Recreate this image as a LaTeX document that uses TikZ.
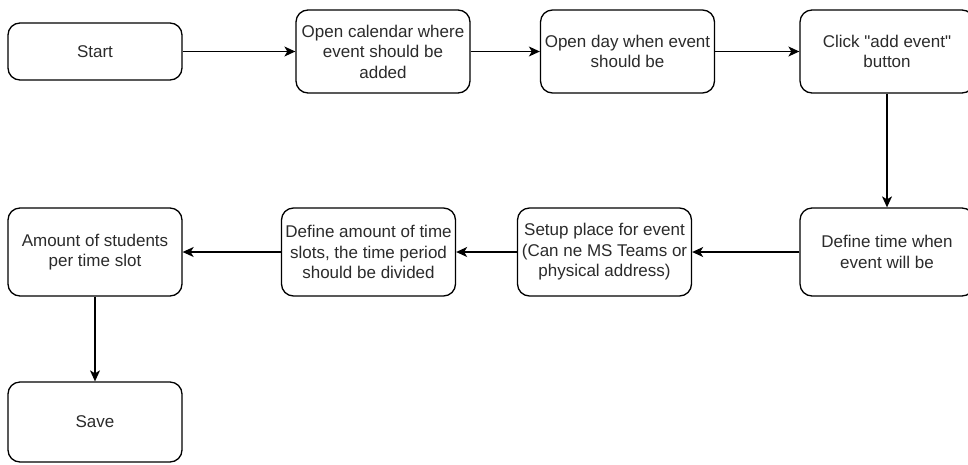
\documentclass[tikz,border=0pt]{standalone}
\usepackage{fontspec}
\setmainfont{Liberation Sans}[Ligatures=TeXOff]
\usetikzlibrary{arrows.meta}
\definecolor{ink}{HTML}{2B2B2B}
\begin{document}
\begin{tikzpicture}[x=1pt,y=-1pt,
  stepbox/.style={draw=black, line width=1.3pt, rounded corners=12pt, fill=white,
    inner sep=0pt, align=center, text=ink, font=\fontsize{17}{20.5}\selectfont,
    minimum width=174pt, minimum height=86pt},
  flow/.style={draw=black, line width=1.3pt, -{Stealth[length=11pt,width=10pt,inset=3pt]}}]
\useasboundingbox[fill=white] (0,0) rectangle (968,464);
% top row
\node[stepbox, minimum height=57pt] (start) at (95,51.5) {Start};
\node[stepbox, minimum height=83pt] (cal) at (383,51.5) {Open calendar where\\event should be\\added};
\node[stepbox, minimum height=83pt] (day) at (627.5,51.5) {Open day when event\\should be};
\node[stepbox, minimum height=83pt] (click) at (887,51.5) {Click "add event"\\button};
% second row
\node[stepbox, minimum height=88pt] (deftime) at (887,252) {Define time when\\event will be};
\node[stepbox, minimum height=88pt] (setup) at (604.5,252) {Setup place for event\\(Can ne MS Teams or\\physical address)};
\node[stepbox, minimum height=88pt] (defamt) at (368.5,252) {Define amount of time\\slots, the time period\\should be divided};
\node[stepbox, minimum height=88pt] (amount) at (95,252) {Amount of students\\per time slot};
% last step
\node[stepbox, minimum height=80pt] (save) at (95,422) {Save};
% connectors
\draw[flow] (start) -- (cal);
\draw[flow] (cal) -- (day);
\draw[flow] (day) -- (click);
\draw[flow] (click) -- (deftime);
\draw[flow] (deftime) -- (setup);
\draw[flow] (setup) -- (defamt);
\draw[flow] (defamt) -- (amount);
\draw[flow] (amount) -- (save);
\end{tikzpicture}
\end{document}
